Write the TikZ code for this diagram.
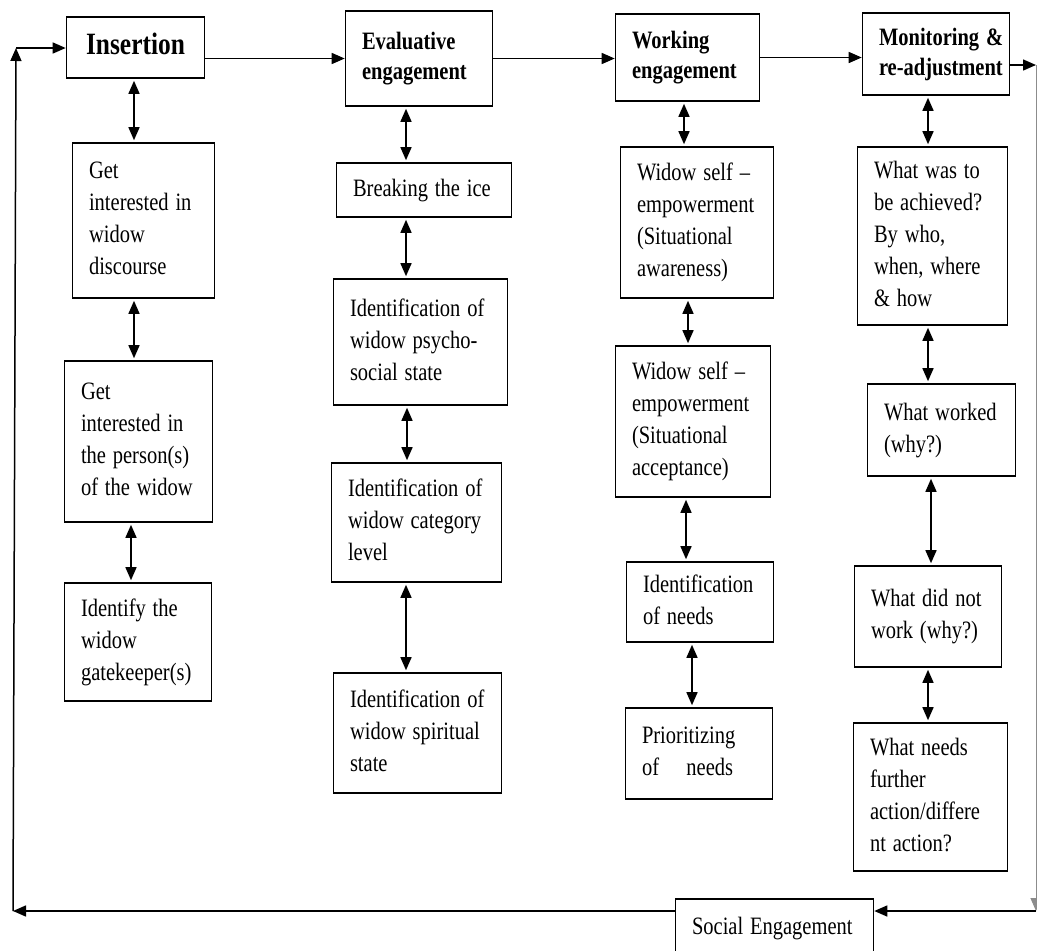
\documentclass[tikz,border=0pt]{standalone}
\usepackage{fontspec}
\usepackage{graphicx}
\setmainfont{Liberation Serif}
\usetikzlibrary{arrows.meta}

% narrow, tall lines as in the printed chart
\newcommand{\tx}[1]{\scalebox{0.82}[1]{\begin{tabular}{@{}l@{}}#1\end{tabular}}}

\begin{document}
\begin{tikzpicture}[
    x=1pt, y=-1pt,
    bx/.style={draw, line width=1.6pt, rectangle, align=left, inner xsep=16.5pt, inner ysep=0pt, font=\fontsize{25}{32}\selectfont},
    hd/.style={bx, font=\bfseries\fontsize{25}{30}\selectfont},
    ar/.style={line width=1.5pt, -{Triangle[length=13pt,width=11pt]}},
    dar/.style={line width=1.5pt, {Triangle[length=13pt,width=11pt]}-{Triangle[length=13pt,width=11pt]}, shorten <=2pt, shorten >=2pt}
  ]
    \useasboundingbox (0,0) rectangle (1037,951);

    % Stage headers
    \node[hd, font=\bfseries\fontsize{31}{36}\selectfont, align=center, text width=105pt, minimum height=61pt] (ins) at (135.5,47.5) {\tx{Insertion}};
    \node[hd, text width=114pt, minimum height=95pt] (eva) at (419,58.5) {\tx{Evaluative\\engagement}};
    \node[hd, text width=111pt, minimum height=87pt] (wrk) at (687.5,57.5) {\tx{Working\\engagement}};
    \node[hd, text width=114pt, minimum height=82pt] (mon) at (936,54) {\tx{Monitoring \&\\re-adjustment}};

    % Insertion column
    \node[bx, text width=109pt, minimum height=155pt] (gi1) at (143.5,220.5) {\tx{Get\\interested in\\widow\\discourse}};
    \node[bx, text width=115pt, minimum height=161pt] (gi2) at (138.5,441.5) {\tx{Get\\interested in\\the person(s)\\of the widow}};
    \node[bx, text width=114pt, minimum height=118pt] (gk) at (138,642) {\tx{Identify the\\widow\\gatekeeper(s)}};

    % Evaluative column
    \node[bx, text width=142pt, minimum height=54pt] (ice) at (424,190) {\tx{Breaking the ice}};
    \node[bx, text width=141pt, minimum height=126pt] (psy) at (420.5,342) {\tx{Identification of\\widow psycho-\\social state}};
    \node[bx, text width=137pt, minimum height=119pt] (cat) at (416.5,522.5) {\tx{Identification of\\widow category\\level}};
    \node[bx, text width=135pt, minimum height=120pt] (spi) at (417.5,733) {\tx{Identification of\\widow spiritual\\state}};

    % Working column
    \node[bx, text width=120pt, minimum height=151pt] (awa) at (697,222.5) {\tx{Widow self –\\empowerment\\(Situational\\awareness)}};
    \node[bx, text width=122pt, minimum height=151pt] (acc) at (693,421.5) {\tx{Widow self –\\empowerment\\(Situational\\acceptance)}};
    \node[bx, text width=114pt, minimum height=80pt] (need) at (700,602) {\tx{Identification\\of needs}};
    \node[bx, text width=114pt, minimum height=91pt] (prio) at (699,753.5) {\tx{Prioritizing\\of \quad needs}};

    % Monitoring column
    \node[bx, text width=117pt, minimum height=178pt] (wto) at (932.5,236) {\tx{What was to\\be achieved?\\By who,\\when, where\\\& how}};
    \node[bx, text width=115pt, minimum height=92pt] (wkd) at (941.5,430) {\tx{What worked\\(why?)}};
    \node[bx, text width=114pt, minimum height=101pt] (dnw) at (928,616.5) {\tx{What did not\\work (why?)}};
    \node[bx, text width=121pt, minimum height=148pt] (fur) at (930.5,797) {\tx{What needs\\further\\action/differe\\nt action?}};

    \node[bx, text width=165pt, minimum height=58pt] (soc) at (774.5,928) {\tx{Social Engagement}};

    % Feedback loop corners
    \coordinate (ne) at (1036,65);
    \coordinate (se) at (1036,911);
    \coordinate (sw) at (13,911);
    \coordinate (nw) at (16,48);

    % Stage to stage
    \draw[ar] (ins.east |- eva.west) -- (eva.west);
    \draw[ar] (eva.east) -- (eva.east -| wrk.west);
    \draw[ar] (wrk.east) -- (wrk.east -| mon.west);
    \draw[ar] (mon.east |- ne) -- (ne);

    % Loop back to insertion
    \draw[ar, line width=1pt, black!45] (ne) -- (se);
    \draw[ar] (se) -- (se -| soc.east);
    \draw[ar] (se -| soc.west) -- (sw);
    \draw[ar] (sw) -- (nw);
    \draw[ar] (nw) -- (nw -| ins.west);

    % Two-way links inside each column
    \foreach \u/\w/\x in {ins/gi1/134, gi1/gi2/134, gi2/gk/131,
                          eva/ice/406, ice/psy/406, psy/cat/407, cat/spi/406,
                          wrk/awa/684, awa/acc/688, acc/need/686, need/prio/692,
                          mon/wto/928, wto/wkd/928, wkd/dnw/931, dnw/fur/928} {
      \draw[dar] (\x,0 |- \u.south) -- (\x,0 |- \w.north);
    }
  \end{tikzpicture}
\end{document}
